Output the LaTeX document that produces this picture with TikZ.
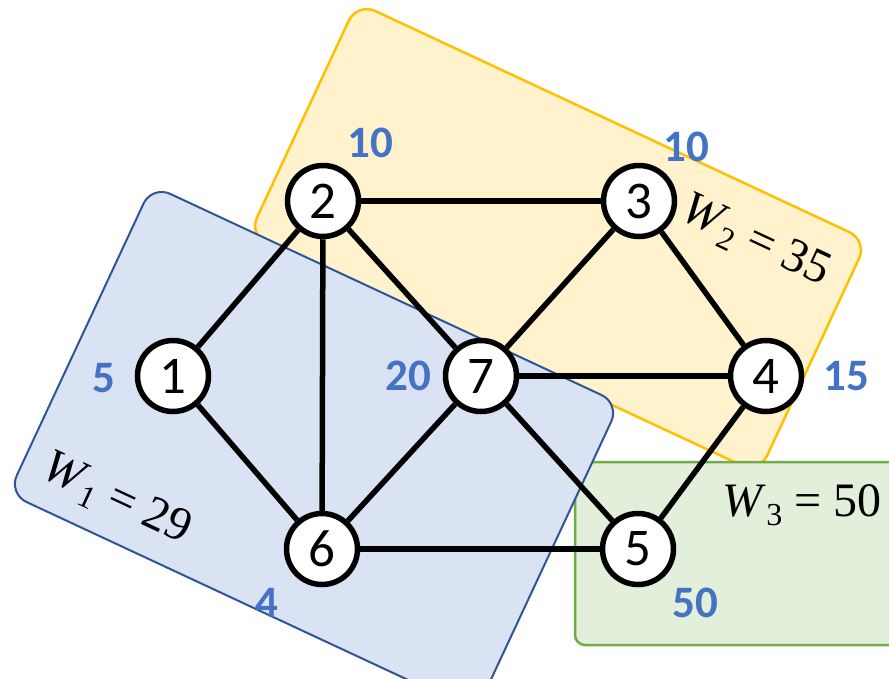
\documentclass[tikz,border=0pt]{standalone}
\usepackage{fontspec}
\setmainfont{Carlito}
\newfontfamily\tnr{Liberation Serif}
\definecolor{blueLine}{HTML}{2F5597}
\definecolor{blueFill}{HTML}{DAE3F3}
\definecolor{yelLine}{HTML}{FFC000}
\definecolor{yelFill}{HTML}{FFF2CC}
\definecolor{grnLine}{HTML}{70AD47}
\definecolor{grnFill}{HTML}{E2EFDA}
\definecolor{lblBlue}{HTML}{4472C4}
\pgfdeclarelayer{groups}
\pgfdeclarelayer{edges}
\pgfsetlayers{groups,edges,main}
\tikzset{
  vtx/.style={circle, draw=black, fill=white, line width=5.5pt, minimum size=71pt, inner sep=0pt, font=\fontsize{53}{60}\selectfont},
  edge/.style={draw=black, line width=5.5pt},
  wlbl/.style={font=\fontsize{45}{52}\selectfont\bfseries, text=lblBlue, inner sep=0pt},
  grp/.style={inner sep=0pt, outer sep=0pt},
  wtxt/.style={font=\fontsize{48}{56}\selectfont\tnr, inner sep=0pt}
}
\begin{document}
\begin{tikzpicture}[x=1pt, y=-1pt]
\useasboundingbox (0,0) rectangle (889,678);
\clip (0,0) rectangle (889,678);
% vertices
\node[vtx] (n1) at (173,376) {1};
\node[vtx] (n2) at (323,201) {2};
\node[vtx] (n3) at (639,201) {3};
\node[vtx] (n4) at (766,376) {4};
\node[vtx] (n5) at (638,549) {5};
\node[vtx] (n6) at (322,549) {6};
\node[vtx] (n7) at (481,376) {7};
% groups
\begin{pgfonlayer}{groups}
\node[grp, draw=yelLine, fill=yelFill, line width=2.5pt, rounded corners=20pt, rotate=-25,
      minimum width=563pt, minimum height=257pt] (g2) at (558,238) {};
\node[grp, draw=grnLine, fill=grnFill, line width=2.5pt, rounded corners=10pt,
      minimum width=345pt, minimum height=183pt, anchor=north west] (g3) at (575,462) {};
\node[grp, draw=blueLine, fill=blueFill, line width=2pt, rounded corners=20pt, rotate=-25,
      minimum width=516pt, minimum height=340pt] (g1) at (314,448.5) {};
\end{pgfonlayer}
% edges
\begin{pgfonlayer}{edges}
\path[edge] (n1) -- (n2);
\path[edge] (n1) -- (n6);
\path[edge] (n2) -- (n6);
\path[edge] (n2) -- (n3);
\path[edge] (n2) -- (n7);
\path[edge] (n3) -- (n7);
\path[edge] (n3) -- (n4);
\path[edge] (n7) -- (n4);
\path[edge] (n7) -- (n6);
\path[edge] (n7) -- (n5);
\path[edge] (n4) -- (n5);
\path[edge] (n6) -- (n5);
\end{pgfonlayer}
% weights
\node[wlbl] (w2) at (370,143) {10};
\node[wlbl] (w3) at (686,147) {10};
\node[wlbl] (w1) at (104,378) {5};
\node[wlbl] (w7) at (408,376) {20};
\node[wlbl] (w4) at (846,376) {15};
\node[wlbl] (w6) at (267,603) {4};
\node[wlbl] (w5) at (695,603) {50};
% group weights
\node[wtxt, rotate=-25] (t1) at (116,500) {\textit{W}\raisebox{-9pt}{\fontsize{32}{36}\selectfont 1} = 29};
\node[wtxt, rotate=-25] (t2) at (755,242) {\textit{W}\raisebox{-9pt}{\fontsize{32}{36}\selectfont 2} = 35};
\node[wtxt] (t3) at (802,505) {\textit{W}\raisebox{-9pt}{\fontsize{32}{36}\selectfont 3} = 50};
\end{tikzpicture}
\end{document}
